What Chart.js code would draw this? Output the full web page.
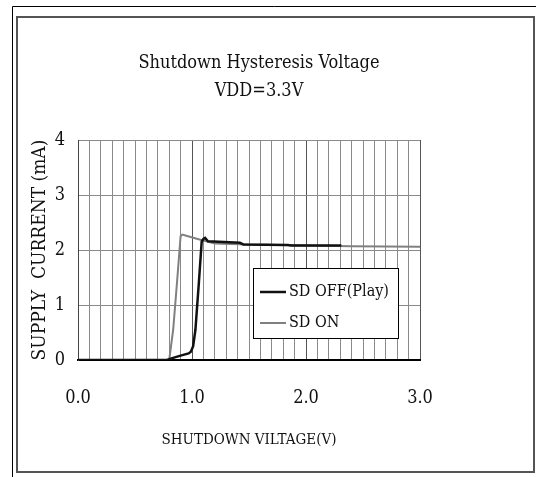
<!DOCTYPE html>
<html>
<head>
<meta charset="utf-8">
<script src="https://cdn.jsdelivr.net/npm/chart.js@4/dist/chart.umd.min.js"></script>
<style>
  html, body { margin: 0; padding: 0; background: #fff; }
  #wrap { width: 536px; height: 477px; }
</style>
</head>
<body>
<div id="wrap"><canvas id="chart" width="536" height="477"></canvas></div>
<script>
// chart text
const titleLines = ['Shutdown Hysteresis Voltage', 'VDD=3.3V'];
const xTitle = 'SHUTDOWN VILTAGE(V)';
const yTitle = 'SUPPLY  CURRENT (mA)';

// SD OFF (Play) curve
const offVolts   = [0, 0.78, 0.82, 0.90, 0.97, 0.99, 1.01, 1.03, 1.06, 1.085, 1.10, 1.115, 1.14, 1.42, 1.45, 1.84, 1.87, 2.31];
const offCurrent = [0, 0,    0.03, 0.08, 0.12, 0.15, 0.25, 0.55, 1.40, 2.15,  2.20, 2.22,  2.16, 2.13, 2.10, 2.09, 2.08, 2.08];

// SD ON curve
const onVolts   = [0, 0.80, 0.835, 0.87, 0.90, 0.915, 0.95, 1.05, 1.10, 1.20, 1.50, 2.00, 2.40, 3.00];
const onCurrent = [0, 0,    0.55,  1.45, 2.25, 2.28,  2.26, 2.20, 2.17, 2.12, 2.10, 2.08, 2.07, 2.06];

const seriesNames = ['SD OFF(Play)', 'SD ON'];
const xTickLabels = ['0.0', '1.0', '2.0', '3.0'];
const yTickLabels = ['0', '1', '2', '3', '4'];

const FONT = "'DejaVu Serif Condensed', 'DejaVu Serif', serif";

const toPoints = (xs, ys) => xs.map((x, i) => ({ x: x, y: ys[i] }));

// white page with the double frame and the two-line title
const framePlugin = {
    id: 'frame',
    beforeDraw(chart) {
        const ctx = chart.ctx;
        ctx.save();
        ctx.fillStyle = '#fff';
        ctx.fillRect(0, 0, chart.width, chart.height);
        ctx.strokeStyle = '#000';
        ctx.lineWidth = 1;
        ctx.beginPath();
        ctx.moveTo(12.5, chart.height);
        ctx.lineTo(12.5, 6.5);
        ctx.lineTo(chart.width, 6.5);
        ctx.stroke();
        ctx.strokeStyle = '#555';
        ctx.lineWidth = 2;
        ctx.strokeRect(17, 17, 517, 455);
        ctx.restore();
    },
    afterDraw(chart) {
        const ctx = chart.ctx;
        ctx.save();
        ctx.fillStyle = '#111';
        ctx.font = '18px ' + FONT;
        ctx.textAlign = 'center';
        ctx.textBaseline = 'middle';
        ctx.fillText(titleLines[0], 259, 63);
        ctx.fillText(titleLines[1], 259, 91);
        ctx.restore();
    }
};

// legend box sitting inside the plot
const boxLegend = {
    id: 'boxLegend',
    afterDatasetsDraw(chart) {
        const ctx = chart.ctx;
        const x0 = 253, y0 = 268, w = 145, h = 70;
        ctx.save();
        ctx.fillStyle = '#fff';
        ctx.fillRect(x0, y0, w, h);
        ctx.strokeStyle = '#000';
        ctx.lineWidth = 1;
        ctx.strokeRect(x0 + 0.5, y0 + 0.5, w, h);
        ctx.font = '16px ' + FONT;
        ctx.textBaseline = 'middle';
        chart.data.datasets.forEach((ds, i) => {
            const y = y0 + 24 + i * 31;
            ctx.strokeStyle = ds.borderColor;
            ctx.lineWidth = ds.borderWidth;
            ctx.beginPath();
            ctx.moveTo(x0 + 7, y);
            ctx.lineTo(x0 + 33, y);
            ctx.stroke();
            ctx.fillStyle = '#111';
            ctx.fillText(ds.label, x0 + 36, y);
        });
        ctx.restore();
    }
};

const isWhole = v => Math.abs(v - Math.round(v)) < 1e-6;

new Chart(document.getElementById('chart'), {
    type: 'line',
    data: {
        datasets: [{
            label: seriesNames[0],
            data: toPoints(offVolts, offCurrent),
            borderColor: '#111',
            borderWidth: 2.5,
            pointRadius: 0,
            tension: 0,
            fill: false
        }, {
            label: seriesNames[1],
            data: toPoints(onVolts, onCurrent),
            borderColor: '#808080',
            borderWidth: 2,
            pointRadius: 0,
            tension: 0,
            fill: false
        }]
    },
    options: {
        responsive: false,
        animation: false,
        layout: { padding: { top: 140, right: 116, left: 0, bottom: 0 } },
        plugins: {
            legend: { display: false },
            tooltip: { enabled: false },
            title: { display: false }
        },
        scales: {
            x: {
                type: 'linear',
                min: 0,
                max: 3,
                afterFit: scale => { scale.height = 117; },
                ticks: {
                    stepSize: 0.1,
                    autoSkip: false,
                    maxRotation: 0,
                    padding: 28,
                    color: '#111',
                    font: { family: FONT, size: 18 },
                    callback: v => isWhole(v) ? xTickLabels[Math.round(v)] : ''
                },
                grid: {
                    drawTicks: false,
                    color: ctx => isWhole(ctx.tick.value) ? '#555' : '#8a8a8a',
                    lineWidth: 1
                },
                border: { color: '#000', width: 2 },
                title: {
                    display: true,
                    text: xTitle,
                    color: '#111',
                    font: { family: FONT, size: 15 },
                    padding: { top: 0, bottom: 28 }
                }
            },
            y: {
                min: 0,
                max: 4,
                afterFit: scale => { scale.width = 78; },
                ticks: {
                    stepSize: 1,
                    padding: 13,
                    color: '#111',
                    font: { family: FONT, size: 18 },
                    callback: v => yTickLabels[v]
                },
                grid: { drawTicks: false, color: '#8a8a8a', lineWidth: 1 },
                border: { color: '#444', width: 1 },
                title: {
                    display: true,
                    text: yTitle,
                    color: '#111',
                    font: { family: FONT, size: 19 },
                    padding: { top: 29, bottom: 0 }
                }
            }
        }
    },
    plugins: [framePlugin, boxLegend]
});
</script>
</body>
</html>
